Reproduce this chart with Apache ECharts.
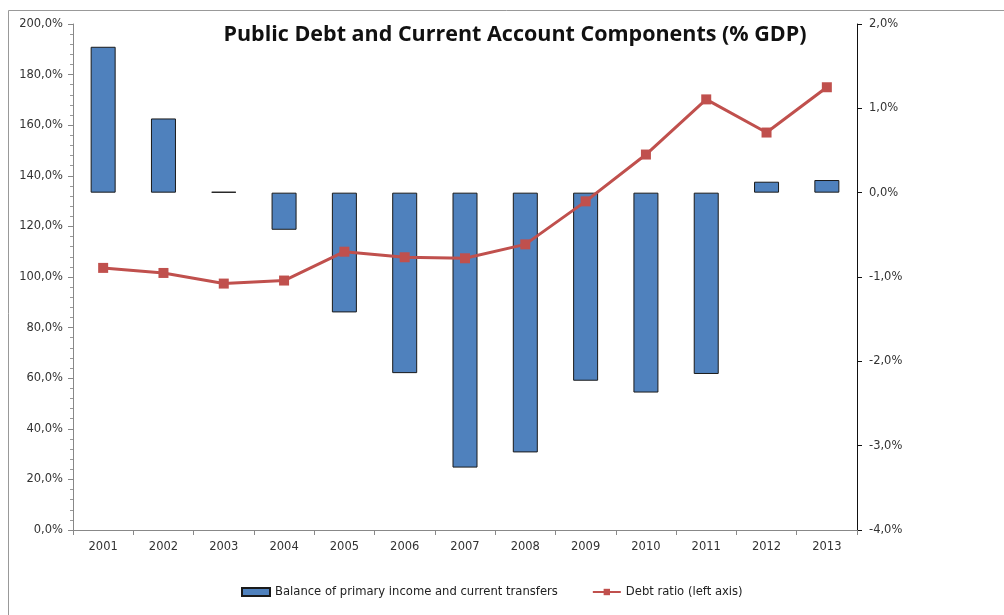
<!DOCTYPE html>
<html><head><meta charset="utf-8">
<script src="https://cdn.jsdelivr.net/npm/echarts@6/dist/echarts.min.js"></script>
<style>html,body{margin:0;padding:0;background:#fff}#c{width:1004px;height:615px}</style>
</head><body><div id="c"></div>
<script>
const categories = ['2001','2002','2003','2004','2005','2006','2007','2008','2009','2010','2011','2012','2013'];
const balanceValues = [1.73, 0.88, 0.01, -0.44, -1.42, -2.14, -3.26, -3.08, -2.23, -2.37, -2.15, 0.13, 0.15];
const debtValues = [103.6, 101.6, 97.4, 98.6, 110.0, 107.8, 107.4, 112.9, 129.9, 148.4, 170.2, 157.1, 175.0];
const seriesNames = ['Balance of primary income and current transfers', 'Debt ratio (left axis)'];
const titleText = 'Public Debt and Current Account Components (% GDP)';

const fmt = v => v.toFixed(1).replace('.', ',') + '%';
const chart = echarts.init(document.getElementById('c'), null, {renderer:'canvas'});
const axisFont = {fontFamily:'DejaVu Sans', fontSize:11.5, color:'#333'};
chart.setOption({
  animation:false,
  backgroundColor:'#fff',
  graphic:[{type:'rect', shape:{x:8.5,y:10.5,width:1200,height:800}, style:{fill:'none', stroke:'#999', lineWidth:1}, silent:true}],
  title:{text:titleText, left:510, top:19, textAlign:'center',
    textStyle:{fontFamily:'Open Sans', fontWeight:'bold', fontSize:21.5, color:'#111'}},
  grid:{left:73, right:147, top:24, bottom:85},
  legend:{bottom:12, left:236, itemWidth:28, itemHeight:8, itemGap:34,
    textStyle:{fontFamily:'DejaVu Sans', fontSize:11.6, color:'#222'},
    data:[{name:seriesNames[0], icon:'rect'}, {name:seriesNames[1]}]},
  xAxis:{type:'category', data:categories, boundaryGap:true,
    axisLine:{lineStyle:{color:'#888'}},
    axisTick:{show:true, length:5, lineStyle:{color:'#888'}},
    axisLabel:Object.assign({margin:11}, axisFont)},
  yAxis:[
    {type:'value', min:0, max:200, interval:20, position:'left',
     axisLine:{show:true, lineStyle:{color:'#888'}},
     axisTick:{show:true, length:5, lineStyle:{color:'#888'}},
     minorTick:{show:true, splitNumber:5, length:3, lineStyle:{color:'#999'}},
     splitLine:{show:false},
     axisLabel:Object.assign({margin:10, formatter:fmt}, axisFont)},
    {type:'value', min:-4, max:2, interval:1, position:'right',
     axisLine:{show:true, lineStyle:{color:'#111'}},
     axisTick:{show:true, length:5, lineStyle:{color:'#111'}},
     splitLine:{show:false},
     axisLabel:Object.assign({margin:12, formatter:fmt}, axisFont)}
  ],
  series:[
    {name:seriesNames[0], type:'bar', yAxisIndex:1, data:balanceValues, barWidth:25,
     itemStyle:{color:'#4F81BD', borderColor:'#1a1a1a', borderWidth:1}},
    {name:seriesNames[1], type:'line', yAxisIndex:0, data:debtValues,
     symbol:'rect', symbolSize:10, lineStyle:{color:'#C0504D', width:3},
     itemStyle:{color:'#C0504D'}, z:5}
  ]
});
</script></body></html>
